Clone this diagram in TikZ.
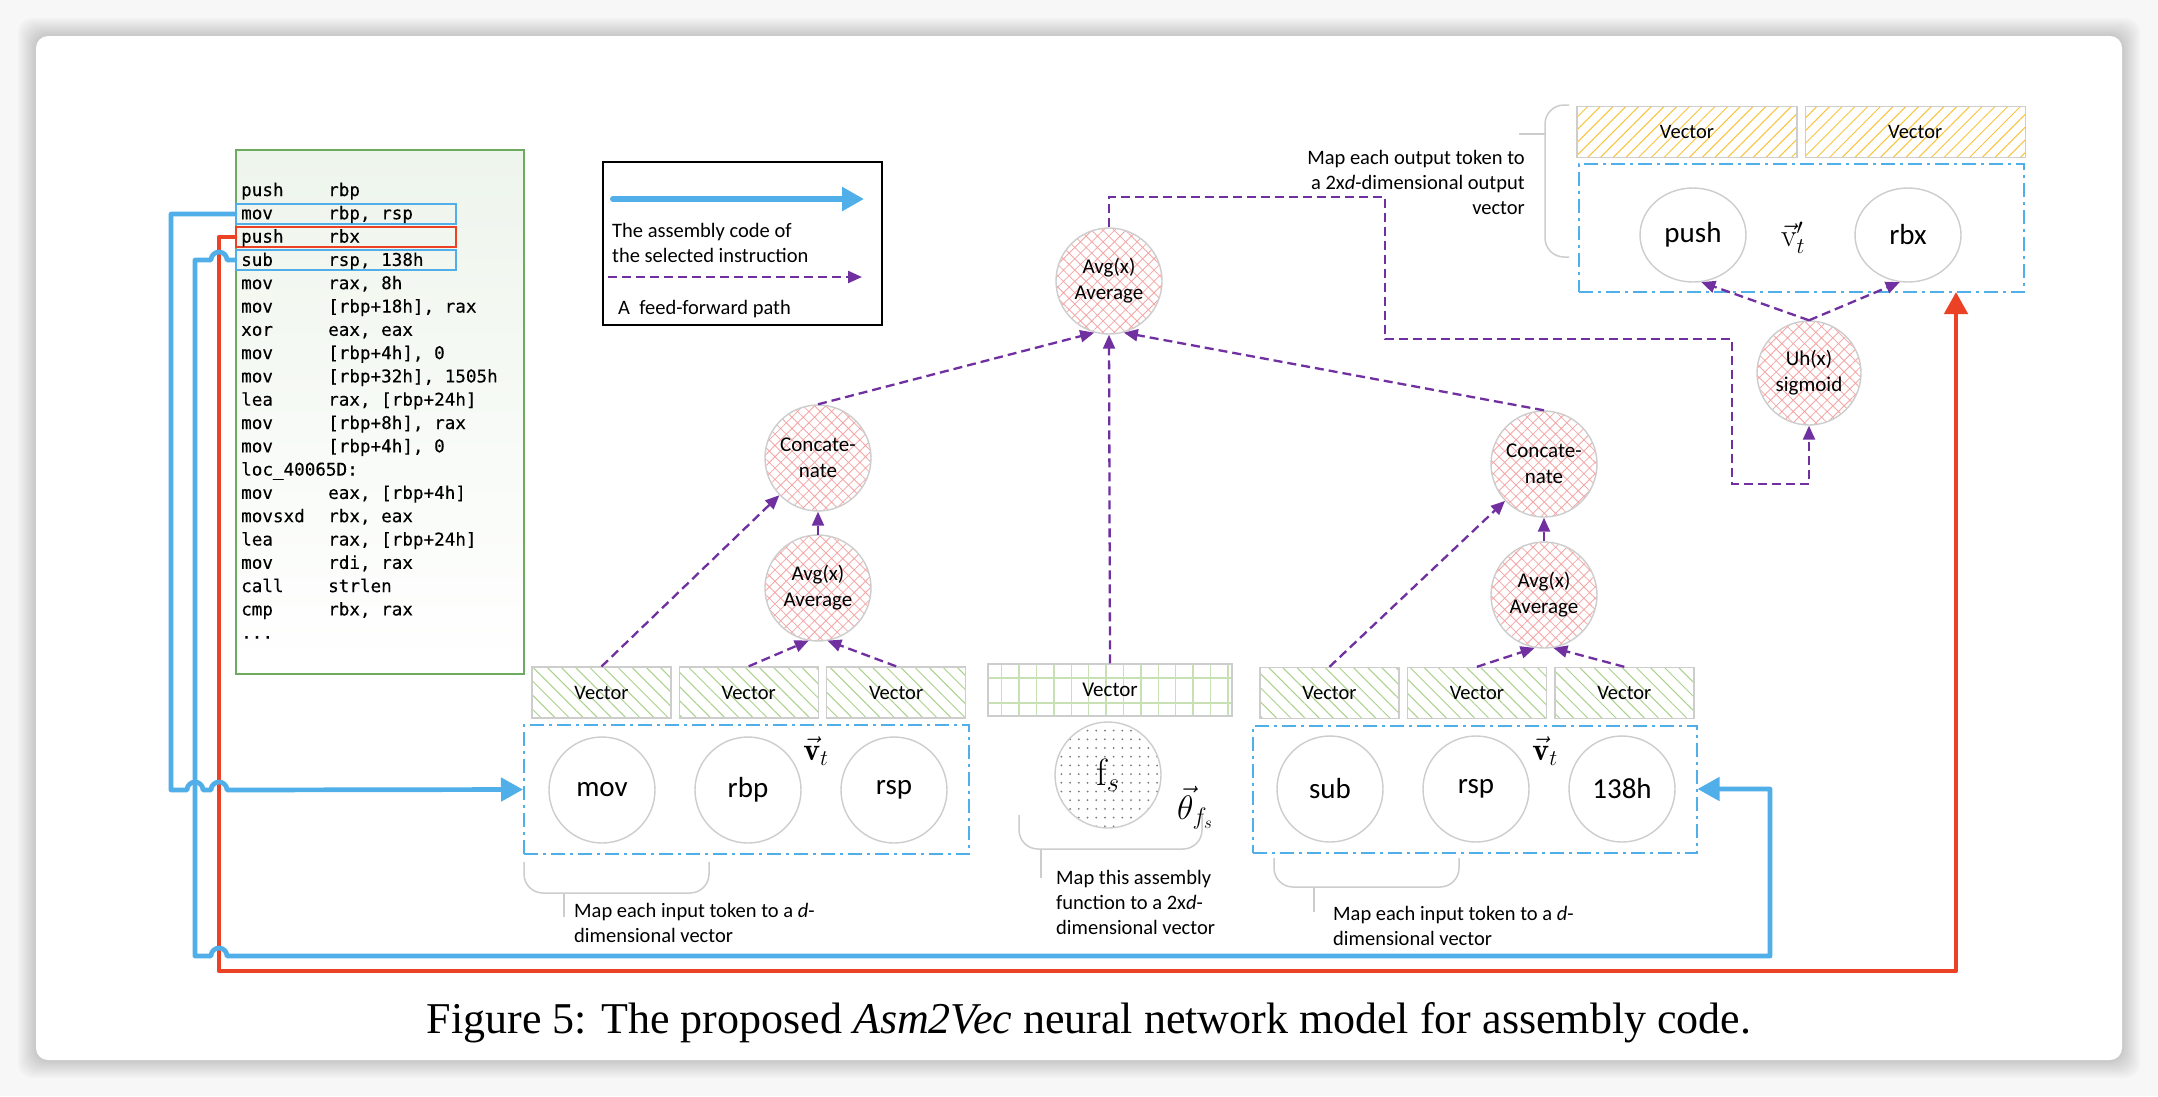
\documentclass[tikz,border=0pt]{standalone}
\usepackage{fix-cm}
\usepackage{fontspec}
\setsansfont{Carlito}
\newfontfamily\codefont[FakeBold=0.3]{DejaVu Sans Mono}
\newfontfamily\capfont{Liberation Serif}
\usetikzlibrary{arrows.meta, patterns.meta, shapes.geometric, positioning}

\definecolor{asmblue}{RGB}{80,174,232}
\definecolor{selred}{RGB}{235,66,38}
\definecolor{ffpurple}{RGB}{112,48,160}
\definecolor{codegreen}{RGB}{110,170,95}
\definecolor{codefill}{RGB}{238,245,236}
\definecolor{circgray}{RGB}{205,205,205}
\definecolor{hatchred}{RGB}{246,165,165}
\definecolor{hatchgreen}{RGB}{170,210,140}
\definecolor{hatchgold}{RGB}{250,195,60}
\definecolor{gridgreen}{RGB}{200,225,180}
\definecolor{dotgray}{RGB}{120,120,120}

\tikzset{
  tok/.style={circle, draw=circgray, line width=1.4pt, fill=white, minimum size=106pt, inner sep=0pt, font=\sffamily\fontsize{29}{32}\selectfont},
  otok/.style={tok, ellipse, minimum width=106pt, minimum height=94pt},
  oper/.style={circle, draw=circgray, line width=1.4pt, minimum size=106pt, inner sep=0pt, align=center,
    pattern={Hatch[angle=45,distance=8pt,line width=0.8pt]}, pattern color=hatchred, font=\sffamily\fontsize{21}{26}\selectfont},
  invec/.style={draw=circgray, line width=1.4pt, minimum width=139pt, minimum height=51pt, inner sep=0pt,
    pattern={Lines[angle=-45,distance=10pt,line width=1pt]}, pattern color=hatchgreen, font=\sffamily\fontsize{20.5}{22}\selectfont},
  outvec/.style={invec, minimum width=220pt, pattern={Lines[angle=45,distance=9pt,line width=1pt]}, pattern color=hatchgold},
  tokbox/.style={draw=asmblue, line width=2pt, dash pattern=on 14pt off 5pt on 3pt off 5pt, inner sep=0pt},
  hl/.style={draw=#1, line width=2pt, minimum width=220pt, minimum height=20pt, inner sep=0pt},
  codeline/.style={anchor=base west, inner sep=0pt, font=\codefont\fontsize{17.6}{20}\selectfont},
  note/.style={font=\sffamily\fontsize{20.5}{25}\selectfont, inner sep=0pt, align=left},
  vlabel/.style={inner sep=0pt, font=\fontsize{32}{36}\selectfont},
  ff/.style={draw=ffpurple, line width=2.3pt, dash pattern=on 9pt off 5pt, -{Triangle[length=14pt,width=12pt]}},
  asm/.style={draw=asmblue, line width=4.7pt, line join=round, line cap=round, -{Triangle[length=22pt,width=23pt]}},
  sel/.style={asm, draw=selred, -{Triangle[length=22pt,width=23pt]}},
  brace/.style={draw=circgray, line width=1.5pt, rounded corners=19pt}
}

\begin{document}
\begin{tikzpicture}[x=1pt,y=-1pt]
\useasboundingbox (0,0) rectangle (2158,1096);

% page background and card
\fill[gray!6] (0,0) rectangle (2158,1096);
\foreach \k in {2,4,...,18}
  \fill[black, opacity=0.018, rounded corners=14pt] (36-\k,36-\k) rectangle (2122+\k,1060+\k);
\fill[white, rounded corners=12pt] (36,36) rectangle (2122,1060);

% assembly listing
\node[draw=codegreen, line width=1.5pt, top color=codefill, bottom color=white, minimum width=288pt, minimum height=524pt, inner sep=0pt] (code) at (380,412) {};
\node[hl=asmblue] (hl1) at (346,214) {};
\node[hl=selred] (hl2) at (346,237) {};
\node[hl=asmblue] (hl3) at (346,260) {};
\foreach \op/\arg [count=\i] in {push/rbp, mov/{rbp, rsp}, push/rbx, sub/{rsp, 138h}, mov/{rax, 8h},
    mov/{[rbp+18h], rax}, xor/{eax, eax}, mov/{[rbp+4h], 0}, mov/{[rbp+32h], 1505h}, lea/{rax, [rbp+24h]},
    mov/{[rbp+8h], rax}, mov/{[rbp+4h], 0}, loc\_40065D:/{}, mov/{eax, [rbp+4h]}, movsxd/{rbx, eax},
    lea/{rax, [rbp+24h]}, mov/{rdi, rax}, call/strlen, cmp/{rbx, rax}} {
  \node[codeline] (op\i) at (241,{196+(\i-1)*23.3}) {\op};
  \node[codeline] (arg\i) at (328,{196+(\i-1)*23.3}) {\arg};
}
\node[codeline] (op20) at (241,{196+19*23.3}) {...};

% legend
\node[draw=black, line width=2pt, minimum width=279pt, minimum height=163pt, inner sep=0pt] (legend) at (742.5,243.5) {};
\coordinate (lga) at (613,199);
\coordinate (lgb) at (864,199);
\draw[asm, line width=6pt] (lga) -- (lgb);
\node[note, anchor=west] (lgtext) at (612,242.5) {The assembly code of\\the selected instruction};
\coordinate (lgc) at (608,277);
\coordinate (lgd) at (862,277);
\draw[ff] (lgc) -- (lgd);
\node[note, anchor=west] (lgff) at (618,309) {A\ \ feed-forward path};

% input context, left
\node[invec] (lv1) at (601.5,692.5) {Vector};
\node[invec, right=7pt of lv1] (lv2) {Vector};
\node[invec, right=7pt of lv2] (lv3) {Vector};
\node[tokbox, minimum width=445pt, minimum height=129pt] (lbox) at (746.5,789.5) {};
\node[tok] (mov) at (602,790) {mov};
\node[tok] (rbp) at (748,790) {rbp};
\node[tok] (rsp) at (894,790) {rsp};
\node[vlabel] (lvt) at (816,751) {$\vec{\mathbf{v}}_t$};
\node[oper] (lavg) at (818,588) {Avg(x)\\Average};
\node[oper] (lcat) at (818,458) {Concate-\\nate};

% function vector
\foreach \gx in {1001.7,1019.1,...,1230}
  \draw[gridgreen, line width=1.4pt] (\gx,664) -- (\gx,716);
\draw[gridgreen, line width=1.4pt] (988,678) -- (1232,678) (988,703) -- (1232,703);
\node[draw=circgray, line width=1.4pt, minimum width=244pt, minimum height=52pt, inner sep=0pt, font=\sffamily\fontsize{21}{22}\selectfont] (mvec) at (1110,690) {Vector};
\node[circle, draw=circgray, line width=1.4pt, minimum size=106pt, inner sep=0pt, pattern={Dots[distance=8.7pt,radius=1pt]}, pattern color=dotgray, font=\fontsize{38}{40}\selectfont] (fs) at (1108,775) {$\mathrm{f}_s$};
\node[vlabel, font=\fontsize{34}{38}\selectfont] (theta) at (1195,808) {$\vec{\theta}_{f_s}$};

% input context, right
\node[invec] (rv1) at (1329.5,693) {Vector};
\node[invec, right=7pt of rv1] (rv2) {Vector};
\node[invec, right=7pt of rv2] (rv3) {Vector};
\node[tokbox, minimum width=444pt, minimum height=127pt] (rbox) at (1474.5,789) {};
\node[tok] (sub) at (1330,789) {sub};
\node[tok] (rsp2) at (1476,789) {rsp};
\node[tok] (h138) at (1622,789) {138h};
\node[vlabel] (rvt) at (1545,751) {$\vec{\mathbf{v}}_t$};
\node[oper] (ravg) at (1544,595) {Avg(x)\\Average};
\node[oper] (rcat) at (1544,464) {Concate-\\nate};

% hidden layer and output
\node[oper] (tavg) at (1109,281) {Avg(x)\\Average};
\node[oper, minimum size=104pt] (uh) at (1809,373) {Uh(x)\\sigmoid};
\node[outvec] (ov1) at (1687,132) {Vector};
\node[outvec, right=7pt of ov1] (ov2) {Vector};
\node[tokbox, minimum width=445pt, minimum height=128pt] (obox) at (1801.5,228) {};
\node[otok] (push) at (1693,235) {push};
\node[otok] (rbx) at (1908,235) {rbx};
\node[vlabel] (ovt) at (1793,238) {$\vec{\mathrm{v}}'_t$};

% brackets and notes
\draw[brace] (524,862) -- (524,893) -- (709,893) -- (709,862);
\draw[brace] (564,893) -- (564,917);
\node[note, anchor=west] (lnote) at (574,922.5) {Map each input token to a \textit{d}-\\dimensional vector};
\draw[brace] (1019,815) -- (1019,849) -- (1202,849) -- (1202,815);
\draw[brace] (1041,849) -- (1041,878);
\node[note, anchor=west] (mnote) at (1056,902) {Map this assembly\\function to a 2x\textit{d}-\\dimensional vector};
\draw[brace] (1274,858) -- (1274,887) -- (1459,887) -- (1459,858);
\draw[brace] (1314,887) -- (1314,912);
\node[note, anchor=west] (rnote) at (1333,926) {Map each input token to a \textit{d}-\\dimensional vector};
\draw[brace] (1569,105) -- (1545,105) -- (1545,257) -- (1569,257);
\draw[brace] (1519,134) -- (1545,134);
\node[note, anchor=east, align=right] (onote) at (1525,182) {Map each output token to\\a 2x\textit{d}-dimensional output\\vector};

% feed-forward paths
\draw[ff] (lv1.north) -- (lcat);
\draw[ff] (lv2.north) -- (lavg.-100);
\draw[ff] (lv3.north) -- (lavg.-80);
\draw[ff] (lavg) -- (lcat);
\draw[ff] (rv1.north) -- (rcat);
\draw[ff] (rv2.north) -- (ravg.-100);
\draw[ff] (rv3.north) -- (ravg.-80);
\draw[ff] (ravg) -- (rcat);
\draw[ff] (lcat.north) -- (tavg.-106);
\draw[ff] (mvec.north) -- (tavg.south);
\draw[ff] (rcat.north) -- (tavg.-74);
\draw[ff] (tavg.north) |- (1385,197) -- (1385,339) -- (1732,339) -- (1732,484) -| (uh.south);
\draw[ff] (uh.north) -- (push.-80);
\draw[ff] (uh.north) -- (rbx.-100);

% selected instruction paths
\coordinate (redup) at (1956,292);
\draw[sel] (hl2.west) -- (219,237) -- (219,971) -| (redup);
\draw[asm] (hl1.west) -- (171,214) -- (171,790) -- (187,790) arc[start angle=180, end angle=360, radius=8]
  -- (211,790) arc[start angle=180, end angle=360, radius=8] -- (lbox.west);
\draw[asm] (hl3.west) -- (227,260) arc[start angle=0, end angle=-180, radius=8] -- (195,260) -- (195,956)
  -- (211,956) arc[start angle=180, end angle=360, radius=8] -- (1770,956) |- (rbox.east);

% caption
\node[anchor=base, inner sep=0pt, font=\capfont\fontsize{44}{48}\selectfont] (cap) at (1089,1033)
  {Figure 5: The proposed \textit{Asm2Vec} neural network model for assembly code.};
\end{tikzpicture}
\end{document}
